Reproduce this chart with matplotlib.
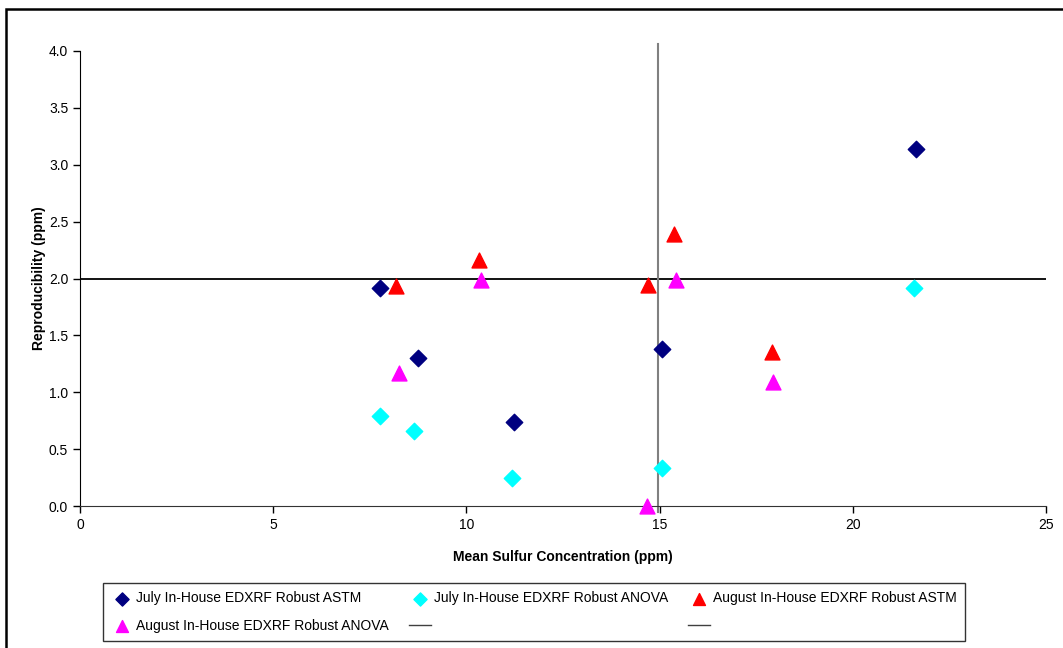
import matplotlib
matplotlib.use("Agg")
import matplotlib.pyplot as plt
from matplotlib.lines import Line2D
from matplotlib.patches import Rectangle

plt.rcParams['font.family'] = ['Liberation Sans', 'DejaVu Sans']

# Data
july_astm_x = [7.76, 8.75, 11.23, 15.06, 21.64]
july_astm_y = [1.92, 1.30, 0.74, 1.38, 3.14]
july_anova_x = [7.76, 8.64, 11.18, 15.06, 21.58]
july_anova_y = [0.79, 0.66, 0.25, 0.33, 1.92]
aug_astm_x = [8.18, 10.33, 14.70, 15.37, 17.90]
aug_astm_y = [1.93, 2.16, 1.94, 2.39, 1.35]
aug_anova_x = [8.26, 10.39, 14.67, 15.42, 17.93]
aug_anova_y = [1.17, 1.99, 0.00, 1.99, 1.09]
hline_y = 2.0
vline_x = 14.97

labels = ["July In-House EDXRF Robust ASTM", "July In-House EDXRF Robust ANOVA",
          "August In-House EDXRF Robust ASTM", "August In-House EDXRF Robust ANOVA"]

fig = plt.figure(figsize=(10.63, 6.48), dpi=100)
ax = fig.add_axes([80/1063, 1-506/648, (1046-80)/1063, (506-51)/648])

s1 = ax.scatter(july_astm_x, july_astm_y, marker='D', s=70, color='#000080', zorder=3, clip_on=False)
s2 = ax.scatter(july_anova_x, july_anova_y, marker='D', s=70, color='#00FFFF', zorder=3, clip_on=False)
s3 = ax.scatter(aug_astm_x, aug_astm_y, marker='^', s=115, color='#FF0000', zorder=3, clip_on=False)
s4 = ax.scatter(aug_anova_x, aug_anova_y, marker='^', s=115, color='#FF00FF', zorder=3, clip_on=False)

ax.plot([0, 25], [hline_y, hline_y], color='black', lw=1.3, zorder=2)
ax.plot([vline_x, vline_x], [-0.05, 4.065], color='#808080', lw=1.5, zorder=2, clip_on=False)

ax.set_xlim(0, 25)
ax.set_ylim(0, 4.0)
ax.set_xticks([0, 5, 10, 15, 20, 25])
ax.set_yticks([0, 0.5, 1.0, 1.5, 2.0, 2.5, 3.0, 3.5, 4.0])
ax.set_yticklabels([f"{v:.1f}" for v in [0, 0.5, 1.0, 1.5, 2.0, 2.5, 3.0, 3.5, 4.0]])
ax.tick_params(direction='out', length=5, width=1, labelsize=10, colors='black')
ax.spines['top'].set_visible(False)
ax.spines['right'].set_visible(False)
ax.spines['left'].set_color('black')
ax.spines['bottom'].set_color('#333333')
ax.set_xlabel("Mean Sulfur Concentration (ppm)", fontsize=10, fontweight='bold', labelpad=13)
ax.set_ylabel("Reproducibility (ppm)", fontsize=10, fontweight='bold', labelpad=2)

l1 = Line2D([], [], color='#404040', lw=1)
l2 = Line2D([], [], color='#404040', lw=1)
handles = [s1, s4, s2, l1, s3, l2]
labs = [labels[0], labels[3], labels[1], "", labels[2], ""]
leg = fig.legend(handles, labs, loc='center', ncol=3, mode='expand',
                 bbox_to_anchor=(103/1063, 1-641/648, (965-103)/1063, 58/648),
                 fontsize=10, frameon=True, fancybox=False, handlelength=1.6,
                 handletextpad=0.2, borderaxespad=0, borderpad=0.6, labelspacing=0.95,
                 scatterpoints=1, markerscale=0.8)
leg.get_frame().set_edgecolor('black')
leg.get_frame().set_linewidth(1.0)

fig.patches.append(Rectangle((6/1063, -0.1), 1.2, 1 - 9/648 + 0.1, transform=fig.transFigure,
                             fill=False, edgecolor='black', lw=1.8))

fig.savefig("out.png", dpi=100)
